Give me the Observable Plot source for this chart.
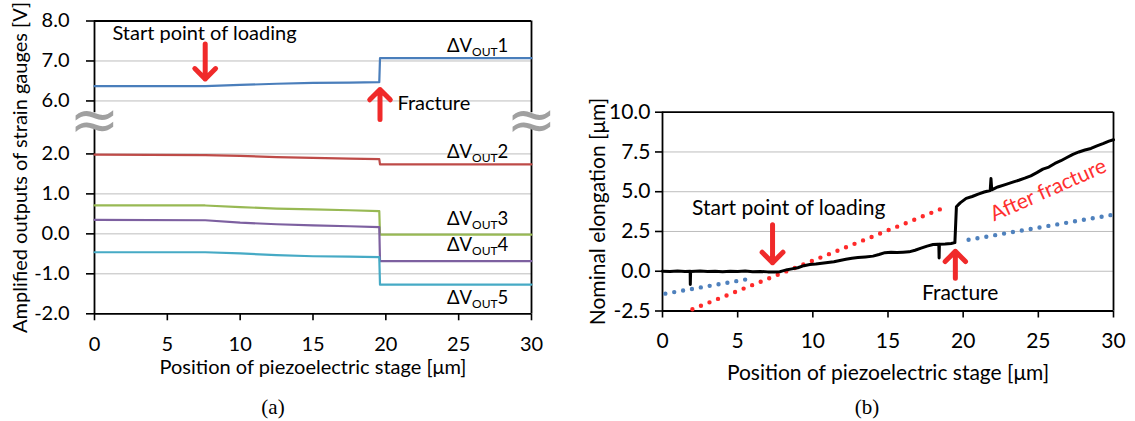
<!DOCTYPE html>
<html><head><meta charset="utf-8">
<script src="https://cdn.jsdelivr.net/npm/d3@7"></script>
<script src="https://cdn.jsdelivr.net/npm/@observablehq/plot@0.6"></script>
<style>
body{margin:0;background:#fff;}
#wrap{position:relative;width:1135px;height:421px;font-family:Lato,sans-serif;overflow:hidden;}
#a{position:absolute;left:0;top:0;}
#b{position:absolute;left:575px;top:0;}
.cap{position:absolute;top:407px;transform:translate(-50%,-50%);font-family:"Liberation Serif",serif;font-size:21px;color:#000;}
</style></head><body>
<div id="wrap"><div id="a"></div><div id="b"></div>
<div class="cap" style="left:273px">(a)</div><div class="cap" style="left:867px">(b)</div></div>
<script>
// ---------- Panel (a) data ----------
const positionA = [0, 7.6, 10, 12.5, 15, 17.5, 19.55, 19.6, 30];
const vout1 = [6.37, 6.37, 6.40, 6.43, 6.45, 6.46, 6.47, 7.07, 7.07];
const vout2 = [1.98, 1.97, 1.95, 1.92, 1.90, 1.88, 1.87, 1.74, 1.74];
const vout3 = [0.71, 0.71, 0.67, 0.63, 0.61, 0.59, 0.57, -0.02, -0.02];
const vout4 = [0.35, 0.34, 0.28, 0.24, 0.21, 0.19, 0.17, -0.68, -0.68];
const vout5 = [-0.46, -0.46, -0.49, -0.53, -0.56, -0.57, -0.58, -1.27, -1.27];
const seriesNames = ["ΔVOUT1", "ΔVOUT2", "ΔVOUT3", "ΔVOUT4", "ΔVOUT5"];
const yTicksA = [-2, -1, 0, 1, 2, 6, 7, 8];
const xTicks = [0, 5, 10, 15, 20, 25, 30];

// ---------- Panel (b) data ----------
const positionB = [0, 0.5, 1, 1.5, 1.84, 1.85, 1.87, 2.5, 3, 3.5, 4, 4.5, 5, 5.5, 6, 6.5, 7, 7.5, 7.8, 8.0, 8.3, 8.6, 9.0, 9.4, 9.8, 10.2, 10.6, 11.0, 11.4, 11.8, 12.2, 12.6, 13.0, 13.5, 14.0, 14.4, 14.8, 15.2, 15.6, 16.0, 16.4, 16.8, 17.2, 17.6, 18.0, 18.3, 18.38, 18.4, 18.42, 18.8, 19.2, 19.45, 19.55, 19.8, 20.2, 20.6, 21.0, 21.4, 21.8, 21.85, 21.9, 22.3, 22.8, 23.3, 23.7, 24.1, 24.5, 24.9, 25.3, 25.7, 26.1, 26.5, 26.9, 27.3, 27.7, 28.1, 28.5, 28.9, 29.3, 29.7, 30.0];
const elongation = [0.00, -0.02, 0.01, -0.01, 0.0, -0.83, -0.02, 0.01, -0.02, 0.0, -0.03, 0.0, -0.02, 0.01, -0.03, -0.01, -0.04, -0.05, -0.03, 0.02, 0.10, 0.15, 0.22, 0.35, 0.42, 0.45, 0.50, 0.55, 0.60, 0.68, 0.75, 0.82, 0.86, 0.90, 0.95, 1.05, 1.17, 1.20, 1.18, 1.20, 1.22, 1.32, 1.45, 1.58, 1.68, 1.70, 1.70, 0.83, 1.70, 1.72, 1.75, 1.80, 4.05, 4.30, 4.58, 4.70, 4.85, 4.98, 5.08, 5.83, 5.12, 5.30, 5.45, 5.60, 5.72, 5.85, 6.00, 6.20, 6.42, 6.55, 6.78, 6.95, 7.15, 7.35, 7.50, 7.62, 7.72, 7.88, 8.02, 8.18, 8.27];
const fitBeforeX = [1.99, 18.9];
const fitBeforeY = [-2.39, 4.06];
const fitAfterX = [0.19, 5.68, 20.36, 29.88];
const fitAfterY = [-1.41, -0.495, 1.98, 3.54];
const fitAfterSeg = ["s1", "s1", "s2", "s2"];
const yTicksB = [-2.5, 0, 2.5, 5, 7.5, 10];

// ---------- shared styles ----------
const seriesColors = ["#4a7ebb", "#be4b48", "#98b954", "#7d60a0", "#46aac5"];
const RED = "#f02a2a";
const GRID = "#bdbdbd";
const FONT = "Lato, sans-serif";

// ---------- Panel (a) ----------
const BREAK_SHIFT = 2.675;
const brk = v => v > 4 ? v - BREAK_SHIFT : v;
const unbrk = v => v > 2.5 ? v + BREAK_SHIFT : v;
const seriesA = [vout1, vout2, vout3, vout4, vout5];
const rowsA = seriesNames.flatMap((name, i) => positionA.map((x, j) => ({name, x, v: seriesA[i][j]})));
const lastA = seriesNames.map((name, i) => ({name, x: 24.2, v: seriesA[i][seriesA[i].length - 1]}));
const labelDy = {"ΔVOUT1": -12.5, "ΔVOUT2": -12.5, "ΔVOUT3": -16, "ΔVOUT4": -15.5, "ΔVOUT5": 13};
const yTopA = brk(8), breakLo = 2.63, breakHi = 3.03;
const FSA = 20;

const plotA = Plot.plot({
  width: 560, height: 421,
  marginLeft: 94, marginRight: 29, marginTop: 20.5, marginBottom: 107.7,
  x: {domain: [0, 30]},
  y: {domain: [-2, yTopA]},
  color: {domain: seriesNames, range: seriesColors},
  style: {fontFamily: FONT, fontSize: FSA + "px", color: "#000", background: "transparent"},
  marks: [
    Plot.ruleY(yTicksA.filter(v => v > -2 && v < 8).map(brk), {stroke: GRID, strokeWidth: 1}),
    Plot.axisX({ticks: xTicks, tickSize: 7, tickPadding: 16, tickFormat: d => String(d), label: null, strokeWidth: 1.6, fontSize: FSA}),
    Plot.axisY({ticks: yTicksA.map(brk), tickSize: 8, tickPadding: 17, tickFormat: d => unbrk(d).toFixed(1), label: null, strokeWidth: 1.6, fontSize: FSA}),
    Plot.ruleY([-2, yTopA], {stroke: "#000", strokeWidth: 1.8}),
    Plot.ruleX([0, 30], {y1: () => -2, y2: () => breakLo, stroke: "#000", strokeWidth: 1.8}),
    Plot.ruleX([0, 30], {y1: () => breakHi, y2: () => yTopA, stroke: "#000", strokeWidth: 1.8}),
    Plot.text([0, 30], {x: d => d, y: () => (breakLo + breakHi) / 2, text: () => "≈", fontSize: 60, fill: "#a0a0a0", fontFamily: "DejaVu Sans"}),
    Plot.line(rowsA, {x: "x", y: d => brk(d.v), z: "name", stroke: "name", strokeWidth: 2.2}),
    Plot.text(lastA, {x: "x", y: d => brk(d.v), text: "name", textAnchor: "start", fontSize: 18.5, fill: "#000"}),
    Plot.vector([7.6], {x: d => d, y: () => brk(6.55), length: 35, rotate: 180, anchor: "end", r: 5.2, stroke: RED, strokeWidth: 5}),
    Plot.vector([19.6], {x: d => d, y: () => 3.61, length: 30, rotate: 0, anchor: "end", r: 6, stroke: RED, strokeWidth: 5}),
    Plot.text(["Start point of loading"], {x: () => 7.55, y: () => 5.01, fontSize: FSA, fill: "#000"}),
    Plot.text(["Fracture"], {x: () => 20.8, y: () => 3.265, textAnchor: "start", fontSize: FSA, fill: "#000"}),
    Plot.text(["Amplified outputs of strain gauges [V]"], {frameAnchor: "left", textAnchor: "middle", lineAnchor: "middle", dx: -74, rotate: -90, fontSize: FSA, fill: "#000"}),
    Plot.text(["Position of piezoelectric stage [μm]"], {frameAnchor: "bottom", textAnchor: "middle", lineAnchor: "middle", dy: 54, fontSize: FSA, fill: "#000"})
  ]
});

// label offsets + subscripts
d3.select(plotA).selectAll("text").each(function() {
  const t = this.textContent;
  const m = /^ΔVOUT(\d)$/.exec(t);
  if (m) {
    const sel = d3.select(this);
    const tr = sel.attr("transform") || "";
    sel.attr("transform", tr + ` translate(0,${labelDy[t]})`);
    sel.text(null);
    sel.append("tspan").text("ΔV");
    sel.append("tspan").attr("font-size", 12).attr("dy", 4).text("OUT");
    sel.append("tspan").attr("dy", -4).text(m[1]);
  }
});
document.getElementById("a").appendChild(plotA);

// ---------- Panel (b) ----------
const rowsB = positionB.map((x, i) => ({x, y: elongation[i]}));
const fitRed = fitBeforeX.map((x, i) => ({x, y: fitBeforeY[i]}));
const fitBlue = fitAfterX.map((x, i) => ({x, y: fitAfterY[i], seg: fitAfterSeg[i]}));
const FSB = 21;

const plotB = Plot.plot({
  width: 560, height: 421,
  marginLeft: 87, marginRight: 22, marginTop: 111.7, marginBottom: 110.5,
  x: {domain: [0, 30]},
  y: {domain: [-2.5, 10]},
  style: {fontFamily: FONT, fontSize: FSB + "px", color: "#000", background: "transparent"},
  marks: [
    Plot.ruleY(yTicksB.filter(v => v > -2.5 && v < 10), {stroke: GRID, strokeWidth: 1}),
    Plot.axisX({ticks: xTicks, tickSize: 7, tickPadding: 15, tickFormat: d => String(d), label: null, strokeWidth: 1.6, fontSize: FSB}),
    Plot.axisY({ticks: yTicksB, tickSize: 7, tickPadding: 5, tickFormat: d => d.toFixed(1), label: null, strokeWidth: 1.6, fontSize: FSB}),
    Plot.ruleY([-2.5, 10], {stroke: "#000", strokeWidth: 1.8}),
    Plot.ruleX([0, 30], {stroke: "#000", strokeWidth: 1.8}),
    Plot.line(fitBlue, {x: "x", y: "y", z: "seg", stroke: "#4f81bd", strokeWidth: 4.4, strokeDasharray: "0 9", strokeLinecap: "round"}),
    Plot.line(fitRed, {x: "x", y: "y", stroke: "#ff2a2a", strokeWidth: 4.4, strokeDasharray: "0 9.2", strokeLinecap: "round"}),
    Plot.line(rowsB, {x: "x", y: "y", stroke: "#000", strokeWidth: 3}),
    Plot.vector([7.32], {x: d => d, y: () => 0.54, length: 38, rotate: 180, anchor: "end", r: 4.8, stroke: RED, strokeWidth: 5}),
    Plot.vector([19.48], {x: d => d, y: () => 1.25, length: 27, rotate: 0, anchor: "end", r: 6.6, stroke: RED, strokeWidth: 5}),
    Plot.text(["Start point of loading"], {x: () => 8.4, y: () => 3.98, fontSize: FSB, fill: "#000"}),
    Plot.text(["Fracture"], {x: () => 19.8, y: () => -1.41, fontSize: FSB, fill: "#000"}),
    Plot.text(["After fracture"], {x: () => 25.66, y: () => 5.1, rotate: -24, fontSize: FSB, fill: "#ff3030"}),
    Plot.text(["Nominal elongation [μm]"], {frameAnchor: "left", textAnchor: "middle", lineAnchor: "middle", dx: -64, rotate: -90, fontSize: FSB, fill: "#000"}),
    Plot.text(["Position of piezoelectric stage [μm]"], {frameAnchor: "bottom", textAnchor: "middle", lineAnchor: "middle", dy: 62, fontSize: FSB, fill: "#000"})
  ]
});
document.getElementById("b").appendChild(plotB);
</script>
</body></html>
